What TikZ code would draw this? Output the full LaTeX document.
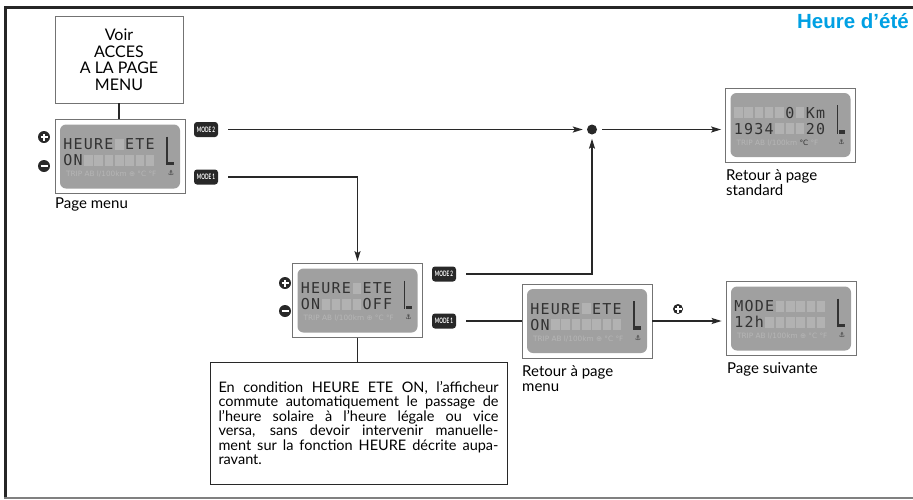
\documentclass[tikz,border=0pt]{standalone}
\usepackage{fontspec}
\setmainfont{Lato}
\newfontfamily\lcdfont{DejaVu Sans Mono}
\newfontfamily\symfont{DejaVu Sans}
\newfontfamily\titlefont{Liberation Sans}
\usetikzlibrary{arrows.meta,positioning,calc}

\definecolor{lcdbg}{RGB}{160,160,160}
\definecolor{lcdblank}{RGB}{178,178,178}
\definecolor{lcdtxt}{RGB}{50,50,50}
\definecolor{lcdfaint}{RGB}{182,182,182}
\definecolor{titleblue}{RGB}{0,160,227}
\definecolor{ink}{RGB}{40,40,40}

\def\blankmark{-}
% one cell of the display: a glyph, or a faint block for "-"
\newcommand\lcdcell[4]{%
  \edef\cellchar{#4}%
  \ifx\cellchar\blankmark
    \fill[lcdblank] ($(#1.center)+({-56.5+(#2-1)*10.3},{#3-11})$) rectangle +(8.5,11);
  \else
    \node[lcdchar] at ($(#1.center)+({-52.2+(#2-1)*10.3},#3)$) {#4};
  \fi}
% name, centre, first row, second row, legend
\newcommand\lcdpanel[5]{%
  \node[lcdframe] (#1) at (#2) {};
  \fill[lcdbg,rounded corners=6pt] ($(#1.center)+(-60,-32)$) rectangle ($(#1.center)+(60,32)$);
  \foreach \ch [count=\i] in {#3} {\lcdcell{#1}{\i}{-7}{\ch}}
  \foreach \ch [count=\i] in {#4} {\lcdcell{#1}{\i}{9}{\ch}}
  \draw[lcdtxt,line width=1.6pt] ($(#1.center)+(47,-20)$) -- ($(#1.center)+(47,8.5)$);
  \fill[lcdtxt] ($(#1.center)+(48,5)$) rectangle ($(#1.center)+(54,8.5)$);
  \node[lcdlegend] at ($(#1.center)+(-54,20)$) {#5};
  \node[font=\symfont\fontsize{7}{7}\selectfont,text=lcdtxt,inner sep=0] at ($(#1.center)+(51,16.5)$) {⚓};
}

\begin{document}
\begin{tikzpicture}[x=1pt,y=-1pt,>={Stealth[length=10pt,width=6pt,inset=2pt]},
  lcdframe/.style={draw=black!55,line width=0.8pt,fill=white,minimum width=130pt,minimum height=74pt,inner sep=0},
  lcdchar/.style={font=\lcdfont\fontsize{15}{15}\selectfont,text=lcdtxt,anchor=base,inner sep=0},
  lcdlegend/.style={font=\symfont\fontsize{7.3}{7.3}\selectfont,text=lcdfaint,anchor=base west,inner sep=0},
  modebtn/.style={fill=ink,rounded corners=3pt,minimum width=24pt,minimum height=15pt,inner sep=0,text=white,font=\bfseries\fontsize{7.5}{7.5}\selectfont},
  pmc/.style={circle,fill=ink,minimum size=12pt,inner sep=0},
  plusic/.style={pmc,path picture={\draw[white,line width=2pt]
      ([xshift=-3.5pt]path picture bounding box.center) -- ([xshift=3.5pt]path picture bounding box.center)
      ([yshift=-3.5pt]path picture bounding box.center) -- ([yshift=3.5pt]path picture bounding box.center);}},
  minusic/.style={pmc,path picture={\draw[white,line width=2pt]
      ([xshift=-3.5pt]path picture bounding box.center) -- ([xshift=3.5pt]path picture bounding box.center);}},
  lbl/.style={font=\fontsize{15}{15.5}\selectfont,inner sep=0,align=left,anchor=north west},
  link/.style={draw=ink,line width=1.4pt},
  flow/.style={link,->}]
  \useasboundingbox (0,0) rectangle (913,499);

  % frame
  \draw[black!85,line width=3pt] (4,7.5) -- (913,7.5);
  \draw[black!85,line width=2.6pt] (5.3,6) -- (5.3,498);
  \draw[gray,line width=2pt] (4,497.5) -- (913,497.5);
  \node[anchor=base east,inner sep=0,text=titleblue,font=\titlefont\bfseries\fontsize{20.5}{24}\selectfont] (title) at (909,28) {Heure d’été};

  % boxes
  \node[draw=black!55,line width=0.8pt,minimum width=128pt,minimum height=87pt,align=center,
    font=\fontsize{16}{16.5}\selectfont] (voir) at (119,59.5) {Voir\\ACCES\\A LA PAGE\\MENU};
  \lcdpanel{menu}{120,156.5}{H,E,U,R,E,-,E,T,E}{O,N,-,-,-,-,-,-,-}{TRIP AB l/100km ⊕ °C °F}
  \lcdpanel{onoff}{357.5,300.5}{H,E,U,R,E,-,E,T,E}{O,N,-,-,-,-,O,F,F}{TRIP AB l/100km ⊕ °C °F}
  \lcdpanel{std}{790.5,125}{-,-,-,-,-,0,-,K,m}{1,9,3,4,-,-,-,2,0}{TRIP AB l/100km \textcolor{lcdtxt}{°C} °F}
  \lcdpanel{ret}{587,321}{H,E,U,R,E,-,E,T,E}{O,N,-,-,-,-,-,-,-}{TRIP AB l/100km ⊕ °C °F}
  \lcdpanel{next}{791,318.5}{M,O,D,E,-,-,-,-,-}{1,2,h,-,-,-,-,-,-}{TRIP AB l/100km ⊕ °C °F}
  \node[draw=ink,line width=0.9pt,text width=280pt,align=justify,inner xsep=8.5pt,minimum height=122pt,
    font=\fontsize{14.5}{14.5}\selectfont] (note) at (358.5,423)
    {En condition HEURE ETE ON, l’afficheur\linebreak
     commute automatiquement le passage de\linebreak
     l’heure solaire à l’heure légale ou vice\linebreak
     versa, sans devoir intervenir manuelle-\linebreak
     ment sur la fonction HEURE décrite aupa-\linebreak
     ravant.};

  % keys
  \node[plusic] (plusA) at (44,137) {};
  \node[minusic] (minusA) at (44,166) {};
  \node[plusic] (plusB) at (285,283) {};
  \node[minusic] (minusB) at (285,311) {};
  \node[plusic,minimum size=10pt] (plusC) at (678,309) {};
  \node[modebtn] (mtwoA) at (206,129.5) {\scalebox{0.62}[1]{MODE 2}};
  \node[modebtn] (moneA) at (206,177) {\scalebox{0.62}[1]{MODE 1}};
  \node[modebtn] (mtwoB) at (444,274) {\scalebox{0.62}[1]{MODE 2}};
  \node[modebtn] (moneB) at (444,321) {\scalebox{0.62}[1]{MODE 1}};
  \node[circle,fill=ink,minimum size=10pt,inner sep=0] (junc) at (592,129.5) {};

  % labels
  \node[lbl] (lmenu) at (55,197.5) {Page menu};
  \node[lbl] (lstd) at (726,169) {Retour à page\\standard};
  \node[lbl] (lret) at (522,365) {Retour à page\\menu};
  \node[lbl] (lnext) at (727,362) {Page suivante};

  % connections
  \draw[link] (voir.south) -- (voir.south |- menu.north);
  \draw[link] (onoff.south) -- (onoff.south |- note.north);
  \draw[flow,shorten <=10pt,shorten >=4pt] (mtwoA) -- (junc);
  \draw[flow,shorten <=10pt,shorten >=2pt] (moneA) -| (onoff);
  \draw[flow,shorten <=10pt,shorten >=4pt] (mtwoB) -| (junc);
  \draw[link,shorten <=10pt] (moneB) -- (ret);
  \draw[flow,shorten <=5pt,shorten >=4pt] (junc) -- (junc -| std.west);
  \draw[flow,shorten >=4pt] (ret) -- (ret -| next.west);
\end{tikzpicture}
\end{document}
